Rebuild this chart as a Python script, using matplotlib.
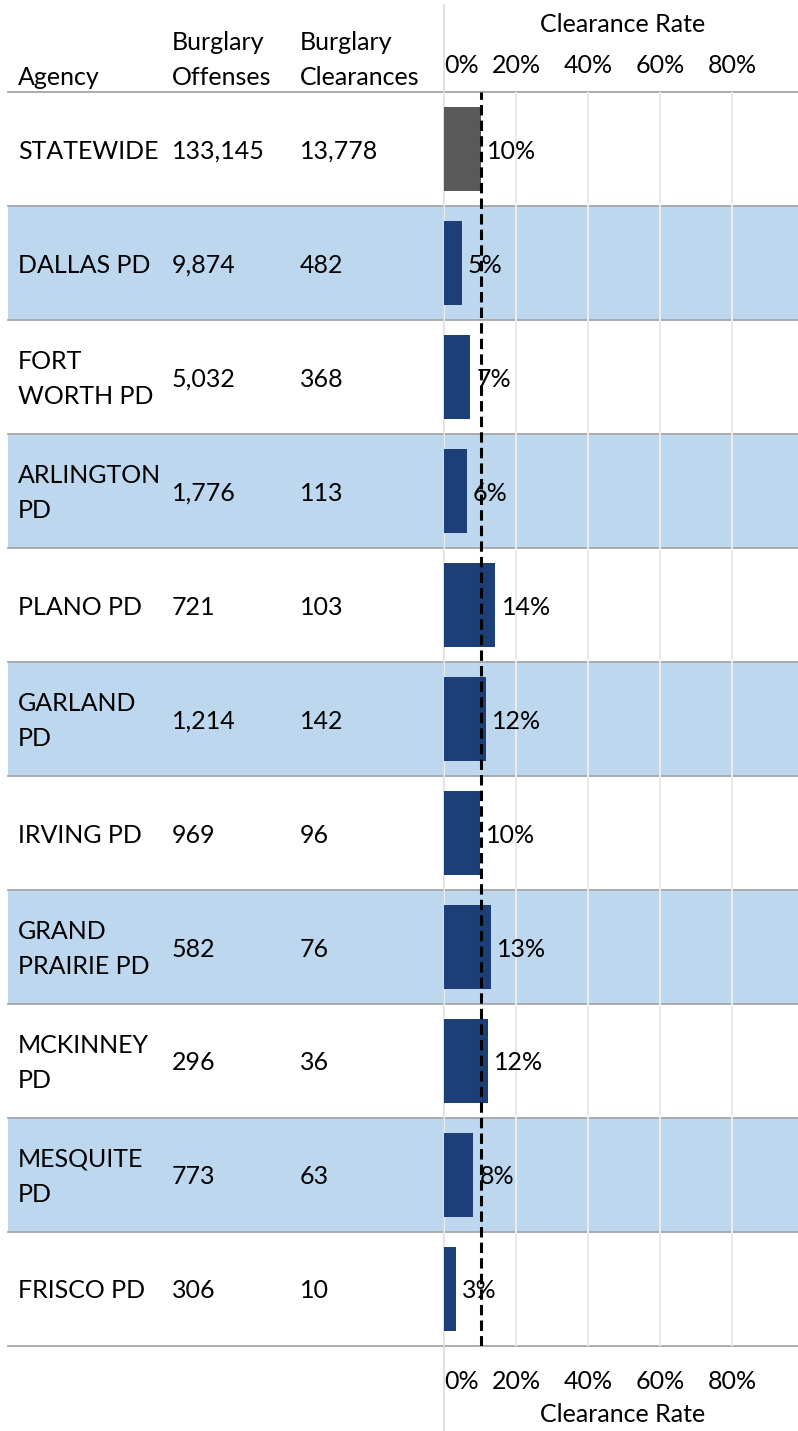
import matplotlib
matplotlib.use("Agg")
import matplotlib.pyplot as plt
from matplotlib.transforms import blended_transform_factory, ScaledTranslation
from matplotlib.patches import Rectangle
from matplotlib.lines import Line2D

# ---------------- data ----------------
agencies = ["STATEWIDE", "DALLAS PD", "FORT\nWORTH PD", "ARLINGTON\nPD", "PLANO PD",
            "GARLAND\nPD", "IRVING PD", "GRAND\nPRAIRIE PD", "MCKINNEY\nPD",
            "MESQUITE\nPD", "FRISCO PD"]
offenses = ["133,145", "9,874", "5,032", "1,776", "721", "1,214", "969", "582",
            "296", "773", "306"]
clearances = ["13,778", "482", "368", "113", "103", "142", "96", "76", "36", "63", "10"]
rates = [10.35, 4.88, 7.31, 6.36, 14.29, 11.70, 9.91, 13.06, 12.16, 8.15, 3.27]
rate_labels = ["10%", "5%", "7%", "6%", "14%", "12%", "10%", "13%", "12%", "8%", "3%"]
x_ticks = [0, 20, 40, 60, 80]
x_tick_labels = ["0%", "20%", "40%", "60%", "80%"]
statewide_rate = 10.35

# ---------------- style ----------------
plt.rcParams["font.family"] = ["Lato", "DejaVu Sans"]
FS = 18
W, H = 798, 1431
TOP, BOT, XL = 92, 1346, 444
BLUE_ROW = "#BDD7EE"
BAR_BLUE = "#1C3F77"
BAR_GREY = "#595959"
LINE_GREY = "#A6A6A6"

fig = plt.figure(figsize=(W / 100, H / 100), dpi=100)
fig.patch.set_facecolor("white")

ax = fig.add_axes([XL / W, (H - BOT) / H, (W - XL) / W, (BOT - TOP) / H])
ax.set_xlim(0, 98.3)
n = len(agencies)
ax.set_ylim(n - 0.5, -0.5)
ax.patch.set_alpha(0)
for s in ax.spines.values():
    s.set_visible(False)
ax.set_yticks([])

# row backgrounds and separators spanning the whole figure width
tr = blended_transform_factory(fig.transFigure, ax.transData)
for i in range(n):
    if i % 2 == 1:
        fig.patches.append(Rectangle((8 / W, i - 0.5), 1 - 8 / W, 1.0, transform=tr,
                                     facecolor=BLUE_ROW, edgecolor="none", zorder=-5))
for b in range(n + 1):
    fig.lines.append(Line2D([8 / W, 1], [b - 0.5, b - 0.5], transform=tr,
                            color=LINE_GREY, lw=1.3, zorder=-4))
# vertical separator
fig.lines.append(Line2D([XL / W, XL / W], [0, 1 - 5 / H], transform=fig.transFigure,
                        color="#D9D9D9", lw=1.2, zorder=-3))

# gridlines and tick labels (top and bottom)
ax.set_xticks(x_ticks, x_tick_labels)
ax.grid(axis="x", color="#EBEBEB", lw=1.5)
ax.set_axisbelow(True)
ax.tick_params(axis="x", length=0, labeltop=True, labelbottom=True, labelsize=FS,
               colors="black", pad=11)

# bars
colors = [BAR_GREY] + [BAR_BLUE] * (n - 1)
ax.barh(range(n), rates, height=0.74, color=colors, zorder=3)
for i, (r, lab) in enumerate(zip(rates, rate_labels)):
    ax.annotate(lab, (r, i), xytext=(6, -2), textcoords="offset pixels",
                ha="left", va="center", fontsize=FS, color="black", zorder=5)

ax.axvline(statewide_rate, color="black", lw=2.2, dashes=(3.4, 1.7), zorder=4)

# table text
row_shift = ScaledTranslation(0, -2 / 100, fig.dpi_scale_trans)
col_x = [18 / W, 172 / W, 300 / W]
for i in range(n):
    for cx, txt in zip(col_x, [agencies[i], offenses[i], clearances[i]]):
        fig.text(cx, i, txt, transform=tr + row_shift, ha="left", va="center",
                 fontsize=FS, linespacing=1.68)

# header
def fy(px):
    return 1 - px / H

fig.text(18 / W, fy(85), "Agency", ha="left", va="baseline", fontsize=FS)
fig.text(172 / W, fy(85), "Burglary\nOffenses", ha="left", va="baseline", fontsize=FS,
         linespacing=1.65)
fig.text(300 / W, fy(85), "Burglary\nClearances", ha="left", va="baseline", fontsize=FS,
         linespacing=1.65)
fig.text(623 / W, fy(25), "Clearance Rate", ha="center", va="center", fontsize=FS)
fig.text(623 / W, fy(1415), "Clearance Rate", ha="center", va="center", fontsize=FS)

fig.canvas.draw()
down = ScaledTranslation(0, -9 / 100, fig.dpi_scale_trans)
for t in ax.xaxis.get_major_ticks():
    t.label1.set_transform(t.label1.get_transform() + down)
    if t.label1.get_text() == "0%":
        t.label1.set_ha("left")
        t.label2.set_ha("left")

fig.savefig("out.png", dpi=100, facecolor="white")
